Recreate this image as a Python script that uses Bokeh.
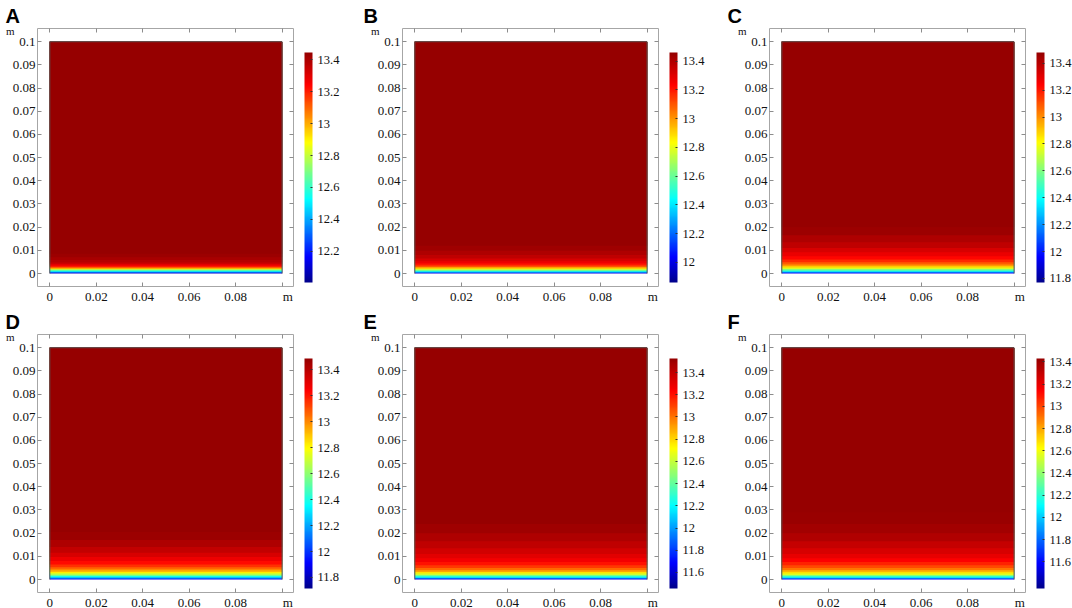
import numpy as np
from bokeh.plotting import figure
from bokeh.models import (LinearColorMapper, ColorBar, FixedTicker, LinearAxis,
                          Range1d, CustomJSTickFormatter, ColumnDataSource)
from bokeh.layouts import row, column
from bokeh.transform import transform
from bokeh.embed import file_html
from bokeh.resources import INLINE

# ---------------- data ----------------
panel_letters = ["A", "B", "C", "D", "E", "F"]
unit_label = "m"
x_domain = [0.0, 0.1]
y_domain = [0.0, 0.1]
x_ticks = [0.0, 0.02, 0.04, 0.06, 0.08, 0.1]
y_ticks = [0.0, 0.01, 0.02, 0.03, 0.04, 0.05, 0.06, 0.07, 0.08, 0.09, 0.1]

# band lower edges (m) and value of the band (field is uniform in x)
A_edges = [0.0, 0.0003, 0.0008, 0.0013, 0.0018, 0.0022, 0.0027, 0.0033, 0.0040, 0.0048, 0.0058, 0.0070, 0.0085]
A_values = [12.1, 12.35, 12.55, 12.75, 12.92, 13.07, 13.2, 13.28, 13.34, 13.38, 13.41, 13.43, 13.444]
B_edges = [0.0, 0.0003, 0.0008, 0.0012, 0.0017, 0.0022, 0.0028, 0.0035, 0.0043, 0.0053, 0.0065, 0.0080, 0.0098, 0.0120]
B_values = [12.0, 12.3, 12.48, 12.66, 12.82, 12.98, 13.1, 13.2, 13.27, 13.32, 13.37, 13.41, 13.44, 13.46]
C_edges = [0.0, 0.0003, 0.0008, 0.0013, 0.0019, 0.0025, 0.0031, 0.0039, 0.0049, 0.0060, 0.0075, 0.0092, 0.0110, 0.0135, 0.0165, 0.0200]
C_values = [11.95, 12.2, 12.42, 12.6, 12.75, 12.87, 12.98, 13.08, 13.17, 13.23, 13.28, 13.33, 13.38, 13.42, 13.46, 13.48]
D_edges = [0.0, 0.0003, 0.0009, 0.0015, 0.0021, 0.0027, 0.0034, 0.0043, 0.0053, 0.0065, 0.0080, 0.0097, 0.0115, 0.0140, 0.0170, 0.0205]
D_values = [11.9, 12.15, 12.38, 12.55, 12.7, 12.83, 12.95, 13.06, 13.15, 13.22, 13.28, 13.33, 13.38, 13.43, 13.47, 13.49]
E_edges = [0.0, 0.0003, 0.0008, 0.0014, 0.0020, 0.0026, 0.0032, 0.0040, 0.0050, 0.0062, 0.0076, 0.0092, 0.0110, 0.0135, 0.0165, 0.0200, 0.0240]
E_values = [11.65, 11.95, 12.23, 12.45, 12.62, 12.77, 12.9, 13.02, 13.12, 13.2, 13.26, 13.31, 13.36, 13.41, 13.46, 13.5, 13.53]
F_edges = [0.0, 0.0003, 0.0008, 0.0014, 0.0020, 0.0026, 0.0033, 0.0041, 0.0050, 0.0062, 0.0076, 0.0092, 0.0110, 0.0135, 0.0165, 0.0200, 0.0240, 0.0290]
F_values = [11.6, 11.9, 12.15, 12.38, 12.55, 12.68, 12.8, 12.9, 12.99, 13.07, 13.14, 13.2, 13.25, 13.3, 13.35, 13.39, 13.42, 13.43]

# colour-bar ranges and ticks
cb_low = [12.006, 11.86, 11.77, 11.715, 11.455, 11.36]
cb_high = [13.444, 13.46, 13.48, 13.488, 13.527, 13.43]
cb_ticks_A = [12.2, 12.4, 12.6, 12.8, 13.0, 13.2, 13.4]
cb_ticks_B = [12.0, 12.2, 12.4, 12.6, 12.8, 13.0, 13.2, 13.4]
cb_ticks_C = [11.8, 12.0, 12.2, 12.4, 12.6, 12.8, 13.0, 13.2, 13.4]
cb_ticks_D = [11.8, 12.0, 12.2, 12.4, 12.6, 12.8, 13.0, 13.2, 13.4]
cb_ticks_E = [11.6, 11.8, 12.0, 12.2, 12.4, 12.6, 12.8, 13.0, 13.2, 13.4]
cb_ticks_F = [11.6, 11.8, 12.0, 12.2, 12.4, 12.6, 12.8, 13.0, 13.2, 13.4]

edges_all = [A_edges, B_edges, C_edges, D_edges, E_edges, F_edges]
values_all = [A_values, B_values, C_values, D_values, E_values, F_values]
cb_ticks_all = [cb_ticks_A, cb_ticks_B, cb_ticks_C, cb_ticks_D, cb_ticks_E, cb_ticks_F]

# ---------------- style ----------------
def jet_palette(n=256):
    stops = [0.0, 0.11, 0.36, 0.61, 0.86, 1.0]
    r = [0, 0, 0, 255, 255, 150]
    g = [0, 0, 255, 255, 0, 0]
    b = [140, 255, 255, 0, 0, 0]
    t = np.linspace(0, 1, n)
    R = np.interp(t, stops, r).round().astype(int)
    G = np.interp(t, stops, g).round().astype(int)
    B = np.interp(t, stops, b).round().astype(int)
    return ["#%02x%02x%02x" % (a, c, d) for a, c, d in zip(R, G, B)]

PAL = jet_palette()
SERIF = "Liberation Serif"
FRAME_W, FRAME_H = 256, 258
LEFT_B = [37, 39, 42]
RIGHT_B = [70, 69, 47]
TOP_B = [28, 28]
BOTTOM_B = [18, 18]
LETTER_OFF = [-32, -39, -42]
LETTER_STANDOFF = [3, 4]
X_RANGE = (-0.0053, 0.1049)
Y_RANGE = (-0.0056, 0.1057)
UNIT_Y_POS = 0.1048     # where the vertical-axis unit sits
UNIT_X_POS = 0.1025     # where the horizontal-axis unit sits
TICK_COLOR = "#8c8c8c"

y_fmt = CustomJSTickFormatter(code="return String(Math.round(tick*1000)/1000);")
x_fmt = CustomJSTickFormatter(code="if (tick > 0.1) { return '%s'; } return String(Math.round(tick*1000)/1000);" % unit_label)
unit_fmt = CustomJSTickFormatter(code="return '%s';" % unit_label)
blank_fmt = CustomJSTickFormatter(code="return '';")
cb_fmt = CustomJSTickFormatter(code="return String(Math.round(tick*10)/10);")


def make_panel(i):
    col, rw = i % 3, i // 3
    p = figure(frame_width=FRAME_W, frame_height=FRAME_H,
               min_border_left=LEFT_B[col], min_border_right=RIGHT_B[col],
               min_border_top=TOP_B[rw], min_border_bottom=BOTTOM_B[rw],
               x_range=Range1d(*X_RANGE), y_range=Range1d(*Y_RANGE),
               output_backend="svg", toolbar_location=None,
               x_axis_location=None, y_axis_location=None)
    p.grid.visible = False
    p.outline_line_color = "#a6a6a6"
    p.outline_line_width = 1
    p.background_fill_color = "white"
    p.border_fill_color = "white"

    # panel letter as title
    p.title.text = panel_letters[i]
    p.title.align = "left"
    p.title.offset = LETTER_OFF[col]
    p.title.text_font = "Liberation Sans"
    p.title.text_font_style = "bold"
    p.title.text_font_size = "20px"
    p.title.text_color = "#000000"
    p.title.standoff = LETTER_STANDOFF[rw]

    mapper = LinearColorMapper(palette=PAL, low=cb_low[i], high=cb_high[i])
    e = edges_all[i]
    src = ColumnDataSource(dict(
        left=[x_domain[0]] * len(e), right=[x_domain[1]] * len(e),
        bottom=e, top=[y_domain[1]] * len(e), v=values_all[i]))
    p.quad(left="left", right="right", bottom="bottom", top="top", source=src,
           fill_color=transform("v", mapper), line_color=None)
    # domain border (top, left, right)
    p.multi_line(xs=[[x_domain[0], x_domain[0], x_domain[1], x_domain[1]]],
                 ys=[[y_domain[0], y_domain[1], y_domain[1], y_domain[0]]],
                 line_color="#555555", line_width=1)

    def axis(loc, ticks, fmt, labels=True, tick_lines=True, font="13px", standoff=2):
        ax = LinearAxis(ticker=FixedTicker(ticks=ticks), formatter=fmt)
        ax.axis_line_color = None
        ax.major_tick_in = 4 if tick_lines else 0
        ax.major_tick_out = 0
        ax.major_tick_line_color = TICK_COLOR if tick_lines else None
        ax.minor_tick_line_color = None
        ax.major_label_text_font = SERIF
        ax.major_label_text_color = "#111111"
        ax.major_label_text_font_size = font if labels else "1px"
        ax.major_label_standoff = standoff if labels else 0
        p.add_layout(ax, loc)

    # tick-only frame axes
    axis("below", x_ticks, blank_fmt, labels=False)
    axis("above", x_ticks, blank_fmt, labels=False)
    axis("right", y_ticks, blank_fmt, labels=False)
    # labelled axes
    axis("below", x_ticks[:-1] + [UNIT_X_POS], x_fmt, tick_lines=False, standoff=2)
    axis("left", y_ticks, y_fmt, standoff=2)
    axis("left", [UNIT_Y_POS], unit_fmt, tick_lines=False, font="11px", standoff=-5)

    cb = ColorBar(color_mapper=mapper, ticker=FixedTicker(ticks=cb_ticks_all[i]),
                  formatter=cb_fmt, orientation="vertical", width=8, height=230,
                  location=(267, 4), padding=0, margin=0, label_standoff=5,
                  major_label_text_font=SERIF, major_label_text_font_size="12.5px",
                  major_label_text_color="#111111",
                  major_tick_line_color="#333333", major_tick_in=2, major_tick_out=0,
                  minor_tick_line_color=None, bar_line_color=None,
                  border_line_color=None, background_fill_color=None)
    p.add_layout(cb, "center")
    return p


panels = [make_panel(i) for i in range(6)]
layout = column(row(*panels[:3]), row(*panels[3:]))
open("out.html", "w").write(file_html(layout, INLINE))
